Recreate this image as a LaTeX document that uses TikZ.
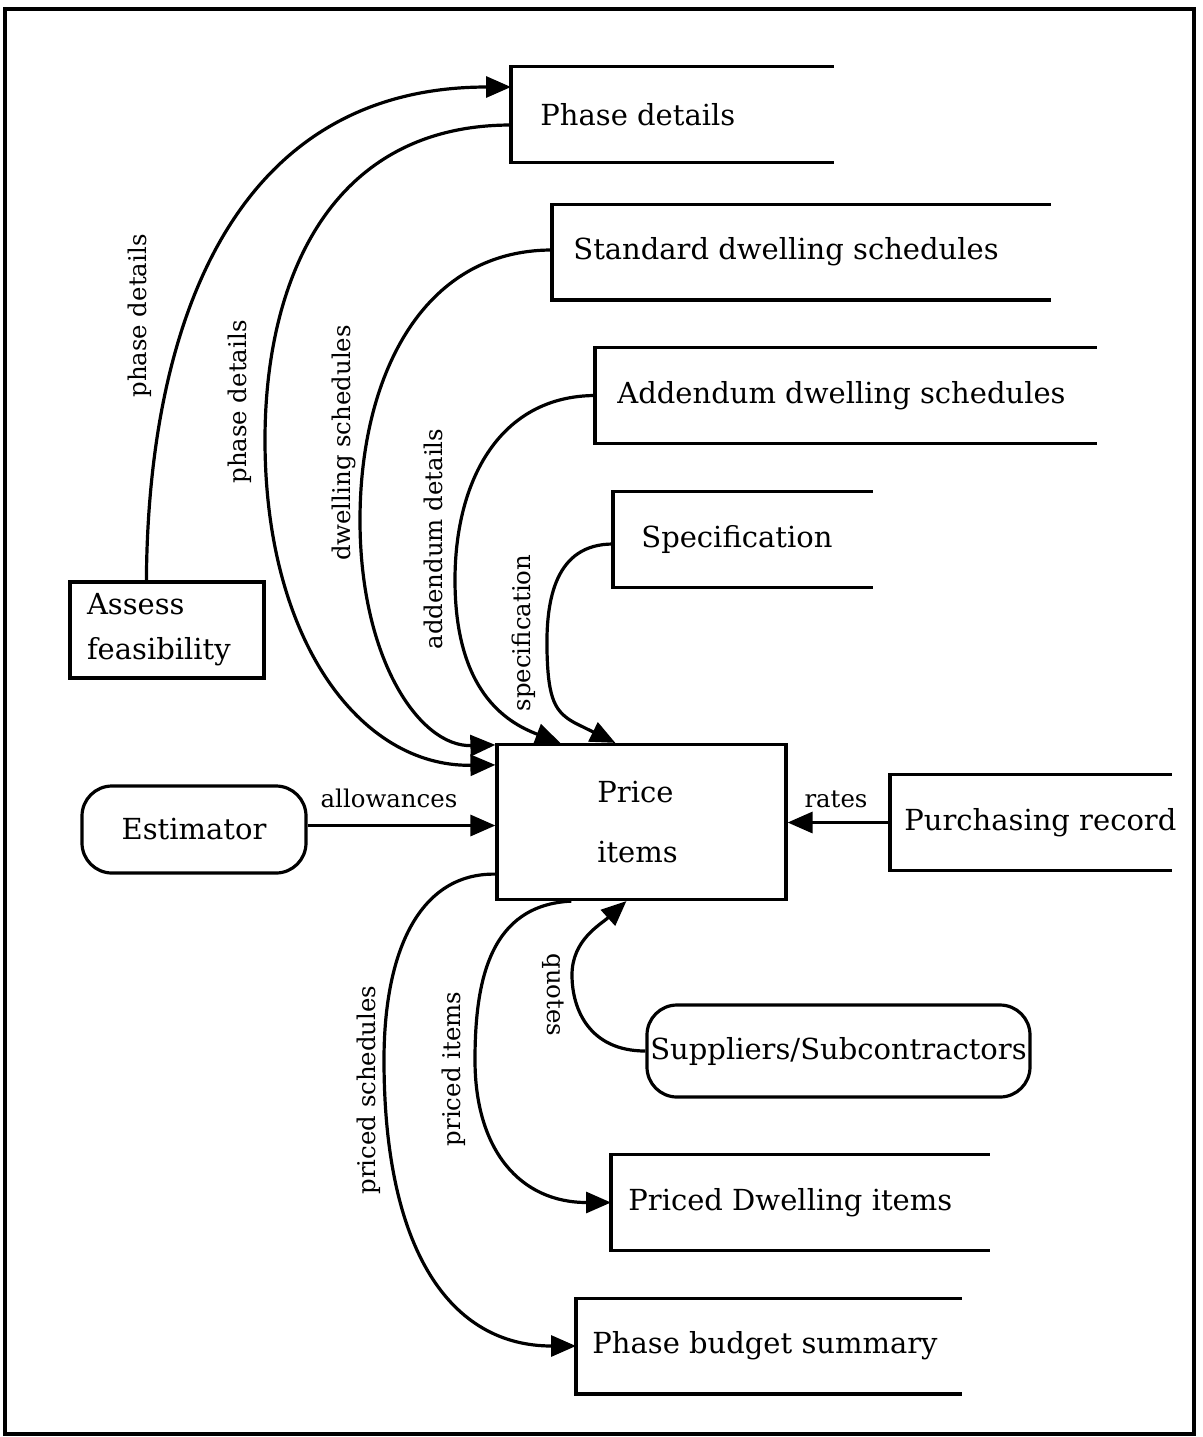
\documentclass[tikz,border=0pt]{standalone}
\usepackage{fontspec}
\setmainfont{DejaVu Serif}
\usetikzlibrary{arrows.meta,calc}
\newcommand{\storetext}[3]{\makebox[#1][l]{\hspace{#2}#3}}
\begin{document}
\begin{tikzpicture}[x=0.5pt,y=-0.5pt,
  boxfont/.style={font=\fontsize{14.5pt}{22.5pt}\selectfont},
  store/.style={boxfont, anchor=west, inner sep=0pt, minimum height=47.5pt},
  proc/.style={boxfont, draw, line width=1.6pt, inner sep=0pt},
  ext/.style={boxfont, draw, line width=1.6pt, rounded corners=15pt, inner sep=0pt},
  lab/.style={font=\fontsize{12.2pt}{14pt}\selectfont, inner sep=0pt},
  flow/.style={line width=1.6pt, -{Triangle[length=12.5pt,width=10.5pt]}},
  storeline/.style={line width=1.6pt}
]
\useasboundingbox (0,0) rectangle (1203,1437);
\draw[line width=2.2pt] (5,9) rectangle (1194,1434);

% data stores
\node[store] (pd)   at (511,114.5)  {\storetext{161pt}{14.5pt}{Phase details}};
\node[store] (sds)  at (552,252)    {\storetext{249pt}{10.5pt}{Standard dwelling schedules}};
\node[store] (ads)  at (595,395.5)  {\storetext{250.5pt}{11pt}{Addendum dwelling schedules}};
\node[store] (spec) at (613,539.5)  {\storetext{129.5pt}{14pt}{Specification}};
\node[store] (prec) at (890,822.5)  {\storetext{140.5pt}{7pt}{Purchasing record}};
\node[store] (pdi)  at (611,1202.5) {\storetext{189pt}{8.5pt}{Priced Dwelling items}};
\node[store] (pbs)  at (576,1346)   {\storetext{192.5pt}{8pt}{Phase budget summary}};
\foreach \n in {pd,sds,ads,spec,prec,pdi,pbs}
  \draw[storeline] (\n.north east) -| (\n.south west) -- (\n.south east);

% processes
\node[proc, minimum width=144.5pt, minimum height=77.5pt, align=center,
      font=\fontsize{14.5pt}{30pt}\selectfont] (price) at (641.5,822) {Price\hspace*{6pt}\\items\hspace*{4pt}};
\node[proc, minimum width=97pt, minimum height=48pt, text width=80pt,
      inner xsep=8.5pt, align=left] (af) at (167,630) {Assess\\feasibility};

% externals
\node[ext, minimum width=112pt, minimum height=43.5pt] (est) at (194,829.5) {Estimator};
\node[ext, minimum width=191.5pt, minimum height=46pt] (sup) at (838.5,1051) {Suppliers/Subcontractors};

% connectors
\draw[flow] ($(af.north west)+(78,0)$) .. controls (148,330) and (230,87) .. ($(pd.west)+(0,-27.5)$);
\draw[flow] ($(pd.west)+(0,10.5)$) .. controls (330,125) and (265,280) .. (265,440)
            .. controls (265,640) and (360,767) .. ($(price.north west)+(0,22)$);
\draw[flow] ($(sds.west)+(0,-2)$) .. controls (420,250) and (360,380) .. (360,520)
            .. controls (360,660) and (420,747) .. ($(price.north west)+(0,2)$);
\draw[flow] (ads.west) .. controls (500,396) and (455,480) .. (455,580)
            .. controls (455,690) and (505,722) .. ($(price.north west)+(65,0)$);
\draw[flow] ($(spec.west)+(0,4.5)$) .. controls (555,544) and (546,600) .. (547,650)
            .. controls (548,700) and (555,712) .. (575,723) -- ($(price.north west)+(120,0)$);
\draw[flow] ($(est.east)+(0,-4)$) coordinate (a1) -- (a1 -| price.west);
\draw[flow] (prec.west) -- (prec.west -| price.east);
\draw[flow] ($(price.south west)+(0,-27)$) .. controls (420,873) and (384,950) .. (384,1060)
            .. controls (384,1250) and (450,1346) .. (pbs.west);
\draw[flow] ($(price.south west)+(76,0)$) .. controls (490,905) and (475,980) .. (475,1060)
            .. controls (475,1150) and (520,1202.5) .. (pdi.west);
\draw[flow] (sup.west) .. controls (590,1051) and (572,1010) .. (572,975)
            .. controls (572,940) and (600,925) .. ($(price.south west)+(131,0)$);

% labels
\node[lab, rotate=90] (l1) at (140,316) {phase details};
\node[lab, rotate=90] (l2) at (240,402) {phase details};
\node[lab, rotate=90] (l3) at (344,443) {dwelling schedules};
\node[lab, rotate=90] (l4) at (433,539) {addendum details};
\node[lab, rotate=90] (l5) at (524,633) {specification};
\node[lab, rotate=90] (l6) at (369,1090) {priced schedules};
\node[lab, rotate=90] (l7) at (454,1069) {priced items};
\node[lab, rotate=-90] (l8) at (553,995) {quotes};
\node[lab, anchor=base] (l9) at (389,807) {allowances};
\node[lab, anchor=base] (l10) at (836,807) {rates};
\end{tikzpicture}
\end{document}
